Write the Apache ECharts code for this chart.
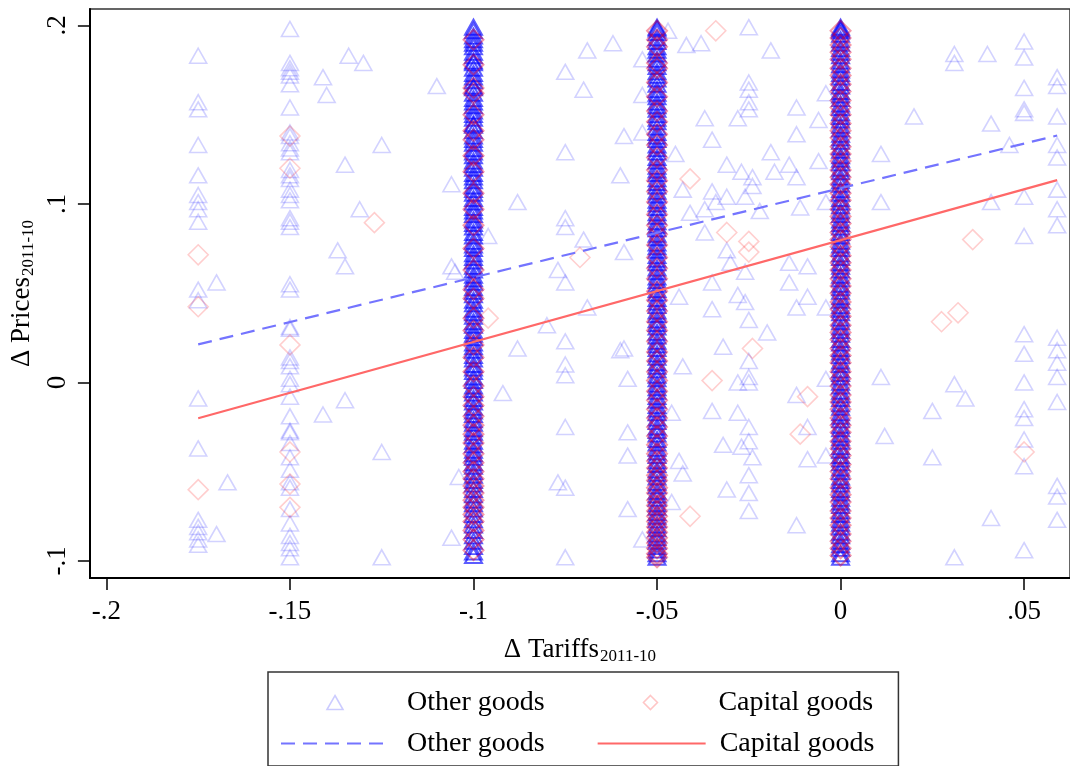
<!DOCTYPE html>
<html>
<head>
<meta charset="utf-8">
<script src="https://cdn.jsdelivr.net/npm/echarts@6/dist/echarts.min.js"></script>
<style>
  html, body { margin: 0; padding: 0; background: #fff; }
  #chart { width: 1070px; height: 766px; }
</style>
</head>
<body>
<div id="chart"></div>
<script>
// Axis ticks
const xTicks = [-0.2, -0.15, -0.1, -0.05, 0, 0.05];
const yTicks = [-0.1, 0, 0.1, 0.2];

// Other goods: scattered products [Δ tariff, Δ price]
const otherScatter = [
  [-.175,.183],[-.175,.157],[-.175,.153],[-.175,.133],[-.175,.116],[-.175,.105],[-.175,.101],[-.175,.097],[-.175,.090],
  [-.175,.052],[-.175,.046],[-.175,-.009],[-.175,-.037],[-.175,-.077],[-.175,-.081],[-.175,-.084],[-.175,-.088],[-.175,-.091],
  [-.170,.056],[-.170,-.085],[-.167,-.056],
  [-.15,.198],[-.15,.179],[-.15,.176],[-.15,.174],[-.15,.172],[-.15,.167],[-.15,.154],[-.15,.140],[-.15,.138],[-.15,.134],
  [-.15,.131],[-.15,.129],[-.15,.119],[-.15,.116],[-.15,.114],[-.15,.108],[-.15,.105],[-.15,.102],[-.15,.092],[-.15,.090],
  [-.15,.087],[-.15,.055],[-.15,.052],[-.15,.031],[-.15,.030],[-.15,.014],[-.15,.012],[-.15,.009],[-.15,.002],[-.15,-.001],
  [-.15,-.008],[-.15,-.019],[-.15,-.027],[-.15,-.028],[-.15,-.034],[-.15,-.042],[-.15,-.049],[-.15,-.056],[-.15,-.059],
  [-.15,-.071],[-.15,-.079],[-.15,-.086],[-.15,-.090],[-.15,-.093],[-.15,-.098],
  [-.134,.183],[-.130,.179],[-.141,.171],[-.140,.161],[-.125,.133],[-.135,.122],[-.131,.097],[-.110,.166],[-.106,.111],
  [-.137,.074],[-.135,.065],[-.106,.065],[-.105,.062],[-.135,-.010],[-.141,-.018],[-.125,-.039],[-.125,-.098],[-.106,-.087],[-.104,-.053],
  [-.069,.186],[-.062,.190],[-.075,.174],[-.070,.164],[-.075,.129],[-.060,.116],[-.059,.138],[-.054,.140],[-.054,.161],[-.054,.181],
  [-.088,.101],[-.075,.092],[-.075,.087],[-.070,.080],[-.059,.073],[-.077,.063],[-.075,.056],[-.096,.082],
  [-.069,.042],[-.080,.032],[-.088,.019],[-.075,.023],[-.075,.010],[-.075,.004],[-.060,.018],[-.059,.019],[-.092,-.006],
  [-.058,.002],[-.075,-.025],[-.058,-.028],[-.058,-.041],[-.077,-.056],[-.075,-.059],[-.058,-.071],[-.054,-.088],[-.075,-.098],
  [-.047,.197],[-.042,.189],[-.038,.190],[-.025,.199],[-.019,.186],[-.025,.168],[-.025,.164],[-.025,.157],[-.025,.153],
  [-.028,.148],[-.037,.148],[-.035,.136],[-.045,.128],[-.031,.122],[-.027,.118],[-.024,.115],[-.019,.129],[-.012,.154],
  [-.012,.139],[-.006,.147],[-.004,.162],[-.014,.122],[-.012,.115],[-.018,.118],[-.006,.124],[-.043,.108],[-.035,.107],
  [-.031,.104],[-.034,.101],[-.026,.104],[-.024,.110],[-.041,.095],[-.037,.097],[-.022,.096],[-.011,.098],[-.004,.101],
  [-.037,.084],[-.031,.074],[-.026,.062],[-.030,.067],[-.035,.056],[-.014,.067],[-.009,.065],[-.014,.056],
  [-.044,.048],[-.035,.041],[-.028,.049],[-.026,.045],[-.025,.035],[-.020,.028],[-.032,.020],[-.043,.009],[-.025,.012],
  [-.025,.003],[-.028,.000],[-.025,.000],[-.012,-.007],[-.009,-.025],[-.035,-.016],[-.028,-.017],[-.025,-.025],[-.046,-.017],
  [-.025,-.033],[-.027,-.036],[-.024,-.042],[-.032,-.035],[-.044,-.044],[-.043,-.051],[-.009,-.043],[-.004,-.041],
  [-.031,-.060],[-.025,-.052],[-.025,-.062],[-.025,-.072],[-.046,-.067],[-.012,-.080],[-.004,.002],[-.012,.042],[-.009,.048],[-.004,.042],
  [.031,.184],[.031,.179],[.040,.184],[.050,.191],[.050,.182],[.050,.165],[.050,.153],[.050,.151],[.059,.171],[.059,.166],
  [.059,.149],[.020,.149],[.041,.145],[.011,.128],[.046,.133],[.059,.133],[.059,.126],[.011,.101],[.041,.101],[.050,.104],
  [.059,.108],[.059,.097],[.059,.088],[.050,.082],
  [.050,.027],[.050,.016],[.059,.025],[.059,.018],[.059,.011],[.059,.003],[.011,.003],[.031,-.001],[.034,-.009],[.025,-.016],
  [.012,-.030],[.025,-.042],[.050,.000],[.050,-.015],[.050,-.020],[.050,-.032],[.050,-.047],[.059,-.011],[.059,-.058],
  [.059,-.064],[.059,-.077],[.041,-.076],[.050,-.094],[.031,-.098]
];

// Capital goods: scattered products [Δ tariff, Δ price]
const capitalScatter = [
  [-.175,.0715],[-.175,.0424],[-.175,-.0601],[-.15,.138],[-.15,.120],[-.15,.021],[-.15,-.039],[-.15,-.057],[-.15,-.070],
  [-.127,.0895],[-.096,.036],[-.071,.070],[-.034,.197],[-.041,.114],[-.031,.084],[-.025,.079],[-.025,.073],[-.024,.019],
  [-.035,.001],[-.009,-.008],[-.011,-.029],[-.041,-.075],[.036,.080],[.0275,.034],[.032,.039],[.050,-.039]
];

// Tariff cuts shared by many products
const denseColumnX = [-0.1, -0.05, 0];

// Other goods, Δ prices in each shared-tariff column
const otherColumnA = [
  .199,.197,.194,.192,.19,.188,.185,.183,.18,.179,.176,.173,.171,.169,.166,.165,.162,.159,.157,.155,.152,.15,.148,.145,.144,
  .141,.138,.136,.134,.131,.129,.127,.124,.122,.12,.117,.115,.113,.11,.108,.106,.103,.101,.098,.096,.094,.091,.089,.087,.084,
  .082,.079,.077,.075,.072,.07,.068,.065,.063,.06,.058,.056,.053,.051,.049,.046,.044,.041,.039,.037,.034,.032,.029,.027,.025,
  .022,.02,.018,.015,.013,.01,.008,.006,.003,.001,-.002,-.004,-.006,-.009,-.011,-.014,-.016,-.018,-.021,-.023,-.026,-.028,-.03,
  -.033,-.035,-.038,-.04,-.042,-.045,-.047,-.05,-.052,-.055,-.057,-.06,-.063,-.066,-.068,-.071,-.074,-.077,-.08,-.083,-.086,
  -.089,-.092,-.095,-.097
];
const otherColumnB = [
  .199,.198,.196,.193,.191,.188,.186,.184,.181,.179,.177,.174,.172,.17,.167,.164,.162,.16,.157,.155,.153,.15,.148,.146,.143,
  .14,.138,.136,.133,.131,.129,.126,.124,.121,.119,.117,.114,.112,.11,.107,.105,.102,.1,.098,.095,.093,.09,.088,.086,.083,
  .081,.078,.076,.074,.071,.069,.067,.064,.062,.059,.057,.055,.052,.05,.047,.045,.043,.04,.038,.035,.033,.031,.028,.026,.023,
  .021,.019,.016,.014,.011,.009,.007,.004,.002,-.001,-.003,-.005,-.008,-.01,-.013,-.015,-.017,-.02,-.022,-.025,-.027,-.029,
  -.032,-.034,-.037,-.039,-.041,-.044,-.046,-.049,-.051,-.053,-.056,-.058,-.061,-.063,-.065,-.068,-.07,-.073,-.075,-.077,
  -.08,-.082,-.085,-.087,-.089,-.092,-.094,-.096,-.098
];
const otherColumnC = [
  .199,.198,.197,.195,.192,.19,.187,.185,.183,.18,.178,.175,.173,.171,.168,.166,.163,.161,.159,.156,.154,.151,.149,.147,.144,
  .142,.139,.137,.135,.132,.13,.127,.125,.123,.12,.118,.115,.113,.111,.108,.106,.103,.101,.099,.096,.094,.091,.089,.087,.084,
  .082,.079,.077,.075,.072,.07,.067,.065,.063,.06,.058,.055,.053,.051,.048,.046,.043,.041,.039,.036,.034,.031,.029,.027,.024,
  .022,.019,.017,.015,.012,.01,.007,.005,.003,0,-.002,-.005,-.007,-.009,-.012,-.014,-.017,-.019,-.021,-.024,-.026,-.029,-.031,
  -.033,-.036,-.038,-.041,-.043,-.045,-.048,-.05,-.053,-.055,-.057,-.06,-.062,-.065,-.067,-.069,-.072,-.074,-.077,-.079,
  -.081,-.084,-.086,-.089,-.091,-.093,-.096,-.098
];

// Capital goods, Δ prices in each shared-tariff column
const capitalColumnA = [
  .192,.178,.165,.162,.150,.141,.136,.127,.118,.106,.097,.088,.075,.063,.052,.047,.036,.029,.021,.014,.006,-.002,-.008,-.013,
  -.019,-.024,-.029,-.034,-.040,-.045,-.050,-.054,-.058,-.062,-.066,-.070,-.074,-.078,-.083,-.088,-.094
];
const capitalColumnB = [
  .197,.192,.188,.179,.176,.168,.160,.152,.146,.139,.133,.126,.119,.113,.107,.101,.094,.088,.083,.077,.070,.064,.058,.051,
  .046,.040,.034,.029,.023,.017,.012,.006,.001,-.005,-.010,-.015,-.020,-.025,-.030,-.035,-.040,-.044,-.048,-.052,-.055,-.059,
  -.062,-.066,-.069,-.072,-.075,-.078,-.081,-.084,-.087,-.090,-.093,-.096,-.098
];
const capitalColumnC = [
  .197,.193,.189,.185,.181,.176,.172,.167,.163,.158,.154,.150,.145,.141,.137,.132,.128,.124,.119,.115,.111,.106,.102,.097,
  .093,.089,.084,.080,.076,.071,.067,.063,.058,.054,.050,.045,.041,.037,.032,.028,.024,.019,.015,.011,.006,.002,-.002,-.007,
  -.011,-.015,-.020,-.024,-.028,-.033,-.037,-.041,-.046,-.050,-.054,-.059,-.063,-.067,-.072,-.076,-.080,-.085,-.089,-.093,-.097
];

// Linear fits (endpoints over the observed tariff range)
const fitX = [-0.175, 0.059];
const fitOther = [0.0213, 0.1383];
const fitCapital = [-0.0201, 0.1133];

const FONT = "'Liberation Serif', 'Times New Roman', serif";
// Outline shapes for the legend keys (drawn at their own aspect ratio)
const TRIANGLE_ICON = 'path://M8,0L16,14L0,14Z';
const DIAMOND_ICON = 'path://M10,0L20,10L10,20L0,10Z';

function column(x, ys) { return ys.map(y => [x, y]); }
function fitLine(xs, ys) { return xs.map((x, i) => [x, ys[i]]); }
function tickText(v) {
  if (Math.abs(v) < 1e-9) return '0';
  return String(+v.toFixed(3)).replace('0.', '.');
}

const otherDense = [].concat(
  column(denseColumnX[0], otherColumnA),
  column(denseColumnX[1], otherColumnB),
  column(denseColumnX[2], otherColumnC)
);
const capitalDense = [].concat(
  column(denseColumnX[0], capitalColumnA),
  column(denseColumnX[1], capitalColumnB),
  column(denseColumnX[2], capitalColumnC)
);

const CLEAR = 'rgba(0,0,0,0)';
const triStyle = { color: CLEAR, borderColor: 'rgba(0,0,255,0.22)', borderWidth: 1.6 };
const diaStyle = { color: CLEAR, borderColor: 'rgba(255,0,0,0.24)', borderWidth: 1.6 };

const chart = echarts.init(document.getElementById('chart'), null, { renderer: 'canvas' });
chart.setOption({
  animation: false,
  backgroundColor: '#fff',
  grid: { left: 87, top: 9, right: -3, bottom: 188, show: true, borderColor: '#333', borderWidth: 1.5, backgroundColor: 'transparent' },
  xAxis: {
    type: 'value', min: -0.2045, max: 0.0625,
    splitLine: { show: false },
    axisLine: { onZero: false, lineStyle: { color: '#000', width: 2 } },
    axisTick: { show: true, length: 12, lineStyle: { color: '#000', width: 1.5 }, customValues: xTicks },
    axisLabel: { customValues: xTicks, formatter: tickText, fontFamily: FONT, fontSize: 27, color: '#000', margin: 20 },
    name: '{m|Δ Tariffs}{s|2011-10}',
    nameLocation: 'middle', nameGap: 56,
    nameTextStyle: {
      color: '#000',
      rich: {
        m: { fontFamily: FONT, fontSize: 27, color: '#000' },
        s: { fontFamily: FONT, fontSize: 17, color: '#000', padding: [14, 0, 0, 1] }
      }
    }
  },
  yAxis: {
    type: 'value', min: -0.1096, max: 0.2092,
    splitLine: { show: false },
    axisLine: { onZero: false, lineStyle: { color: '#000', width: 2 } },
    axisTick: { show: true, length: 12, lineStyle: { color: '#000', width: 1.5 }, customValues: yTicks },
    axisLabel: { customValues: yTicks, formatter: tickText, rotate: 90, fontFamily: FONT, fontSize: 27, color: '#000', margin: 18 },
    name: '{m|Δ Prices}{s|2011-10}',
    nameLocation: 'middle', nameGap: 30, nameRotate: 90,
    nameTextStyle: {
      color: '#000',
      rich: {
        m: { fontFamily: FONT, fontSize: 27, color: '#000' },
        s: { fontFamily: FONT, fontSize: 17, color: '#000', padding: [14, 0, 0, 1] }
      }
    }
  },
  legend: {
    left: 268, top: 672, width: 610,
    padding: [15, 24, 7, 12],
    itemGap: 10, itemWidth: 108, itemHeight: 14,
    symbolKeepAspect: true,
    borderColor: '#333', borderWidth: 1.5, borderRadius: 0,
    selectedMode: false,
    textStyle: { fontFamily: FONT, fontSize: 28, color: '#000', lineHeight: 31 },
    formatter: name => name.replace(' fit', ''),
    data: [
      { name: 'Other goods', icon: TRIANGLE_ICON, itemStyle: { color: CLEAR, borderColor: 'rgba(0,0,255,0.25)', borderWidth: 1.6 },
        textStyle: { padding: [0, 88, 0, 13] } },
      { name: 'Capital goods', icon: DIAMOND_ICON, itemStyle: { color: CLEAR, borderColor: 'rgba(255,0,0,0.28)', borderWidth: 1.6 },
        textStyle: { padding: [0, 0, 0, 9] } },
      { name: 'Other goods fit', itemStyle: { opacity: 0 }, textStyle: { padding: [0, 42, 0, 13] } },
      { name: 'Capital goods fit', itemStyle: { opacity: 0 }, textStyle: { padding: [0, 0, 0, 9] } }
    ]
  },
  series: [
    {
      name: 'Other goods', type: 'scatter', symbol: 'triangle', symbolSize: [17, 15],
      itemStyle: triStyle, data: otherScatter, silent: true, z: 2
    },
    {
      name: 'Other goods', type: 'scatter', symbol: 'triangle', symbolSize: [17, 15],
      itemStyle: { color: CLEAR, borderColor: 'rgba(0,0,255,0.8)', borderWidth: 2 },
      data: otherDense, silent: true, z: 2
    },
    {
      name: 'Capital goods', type: 'scatter', symbol: 'diamond', symbolSize: [20, 20],
      itemStyle: diaStyle, data: capitalScatter, silent: true, z: 3
    },
    {
      name: 'Capital goods', type: 'scatter', symbol: 'diamond', symbolSize: [20, 20],
      itemStyle: { color: CLEAR, borderColor: 'rgba(230,0,40,0.5)', borderWidth: 2 },
      data: capitalDense, silent: true, z: 3
    },
    {
      name: 'Other goods fit', type: 'line', symbol: 'none', showSymbol: false,
      itemStyle: { color: '#7474ff' },
      lineStyle: { color: '#7474ff', width: 2.2, type: [14, 8] },
      data: fitLine(fitX, fitOther), silent: true, z: 4
    },
    {
      name: 'Capital goods fit', type: 'line', symbol: 'none', showSymbol: false,
      itemStyle: { color: '#ff6868' },
      lineStyle: { color: '#ff6868', width: 2.2 },
      data: fitLine(fitX, fitCapital), silent: true, z: 4
    }
  ]
});
</script>
</body>
</html>
